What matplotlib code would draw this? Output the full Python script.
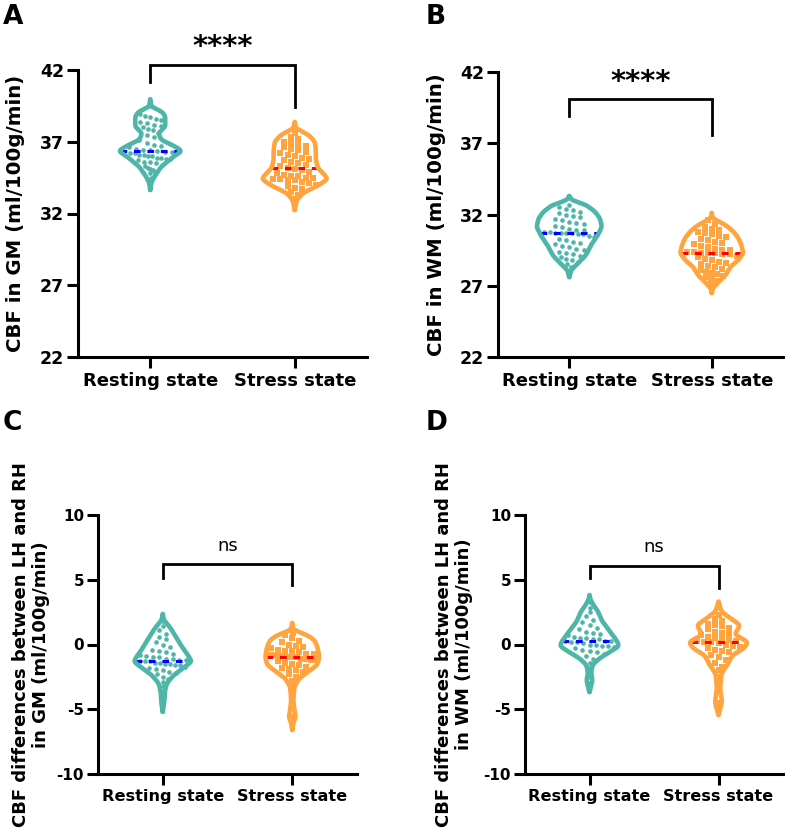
import matplotlib
matplotlib.use("Agg")
import matplotlib.pyplot as plt
import numpy as np

plt.rcParams['font.family'] = 'DejaVu Sans'
plt.rcParams['font.weight'] = 'bold'
plt.rcParams['axes.unicode_minus'] = False

groups = ["Resting state", "Stress state"]
teal = "#4DB6A8"
orange = "#FFA43E"

# ---- data ----
# A: CBF in GM
gm_rest = [39.5, 38.9, 38.8, 38.7, 38.6, 38.5, 38.4, 38.3, 38.2, 38.1, 38.0, 37.9, 37.8, 37.6, 37.5,
           37.3, 37.1, 36.9, 36.8, 36.7, 36.6, 36.5, 36.4, 36.4, 36.35, 36.3, 36.3, 36.2, 36.2, 36.1,
           36.1, 36.0, 36.0, 35.9, 35.9, 35.8, 35.8, 35.7, 35.6, 35.6, 35.5, 35.4, 35.3, 35.2, 35.1,
           35.0, 34.9, 34.8, 34.5]
gm_stress = [37.6, 37.3, 37.2, 37.0, 36.9, 36.8, 36.7, 36.6, 36.5, 36.4, 36.3, 36.2, 36.1, 36.0, 35.9,
             35.8, 35.7, 35.6, 35.5, 35.4, 35.3, 35.2, 35.1, 35.0, 34.9, 34.8, 34.7, 34.6, 34.6, 34.5,
             34.5, 34.4, 34.4, 34.3, 34.3, 34.2, 34.1, 34.0, 33.9, 33.8, 33.7, 33.5, 33.3, 33.0]
# B: CBF in WM
wm_rest = [32.7, 32.5, 32.4, 32.3, 32.2, 32.1, 32.0, 31.9, 31.8, 31.7, 31.6, 31.5, 31.4, 31.3, 31.2,
           31.1, 31.0, 30.9, 30.9, 30.8, 30.8, 30.7, 30.7, 30.7, 30.7, 30.6, 30.6, 30.5, 30.4, 30.3,
           30.2, 30.1, 30.0, 29.9, 29.8, 29.7, 29.6, 29.5, 29.4, 29.3, 29.2, 29.1, 29.0, 28.9, 28.8,
           28.7, 28.5, 28.3]
wm_stress = [31.6, 31.3, 31.1, 31.0, 30.9, 30.8, 30.7, 30.6, 30.5, 30.4, 30.3, 30.2, 30.1, 30.0, 29.9,
             29.8, 29.7, 29.6, 29.5, 29.5, 29.4, 29.4, 29.3, 29.3, 29.3, 29.2, 29.2, 29.1, 29.0, 28.9,
             28.8, 28.7, 28.6, 28.5, 28.4, 28.3, 28.2, 28.1, 28.0, 27.9, 27.8, 27.7, 27.6, 27.5, 27.3,
             27.2, 27.0]
# C: LH-RH difference in GM
gmd_rest = [1.8, 1.4, 1.1, 0.8, 0.6, 0.4, 0.2, 0.0, -0.2, -0.4, -0.5, -0.6, -0.7, -0.8, -0.9, -1.0,
            -1.0, -1.1, -1.1, -1.2, -1.2, -1.3, -1.3, -1.3, -1.4, -1.4, -1.5, -1.5, -1.6, -1.6, -1.7,
            -1.8, -1.9, -2.0, -2.1, -2.2, -2.3, -2.5, -2.7, -2.9, -3.2, -3.6, -4.0, -4.6]
gmd_stress = [1.2, 0.9, 0.7, 0.5, 0.3, 0.2, 0.0, -0.1, -0.2, -0.3, -0.4, -0.5, -0.5, -0.6, -0.7, -0.7,
              -0.8, -0.8, -0.9, -0.9, -1.0, -1.0, -1.0, -1.1, -1.1, -1.2, -1.2, -1.3, -1.4, -1.5, -1.6,
              -1.7, -1.8, -1.9, -2.0, -2.1, -2.3, -2.5, -2.8, -3.3, -4.2, -5.6]
# D: LH-RH difference in WM
wmd_rest = [3.3, 2.8, 2.5, 2.2, 1.9, 1.7, 1.5, 1.3, 1.2, 1.0, 0.9, 0.8, 0.7, 0.6, 0.5, 0.5, 0.4, 0.4,
            0.3, 0.3, 0.25, 0.2, 0.2, 0.1, 0.0, 0.0, -0.1, -0.1, -0.2, -0.3, -0.4, -0.5, -0.6, -0.7,
            -0.9, -1.1, -1.4, -1.8, -2.5, -3.0]
wmd_stress = [2.9, 2.3, 2.0, 1.8, 1.6, 1.5, 1.4, 1.3, 1.2, 1.0, 0.9, 0.8, 0.7, 0.6, 0.5, 0.4, 0.35, 0.3,
              0.25, 0.2, 0.2, 0.1, 0.0, -0.1, -0.2, -0.3, -0.4, -0.5, -0.6, -0.8, -1.0, -1.2, -1.4,
              -1.7, -2.0, -2.5, -3.3, -4.5]

# violin density profiles (value, half width)
gm_rest_y = [39.96, 39.44, 39.09, 38.75, 38.05, 37.59, 37.12, 36.77, 36.36, 35.96, 35.26, 34.56, 34.13, 33.64]
gm_rest_w = [0, .007, .083, .104, .104, .056, .076, .153, .222, .16, .076, .028, .007, 0]
gm_stress_y = [38.38, 37.94, 37.47, 37.0, 36.43, 35.73, 35.17, 34.75, 34.4, 33.98, 33.43, 32.94, 32.24]
gm_stress_w = [0, .007, .097, .139, .146, .146, .160, .201, .229, .167, .056, .014, 0]
wm_rest_y = [33.30, 33.02, 32.67, 32.20, 31.73, 31.14, 30.56, 29.86, 29.16, 28.58, 28.11, 27.61]
wm_rest_w = [0, .014, .118, .181, .215, .229, .201, .153, .118, .063, .014, 0]
wm_stress_y = [32.11, 31.73, 31.26, 30.79, 30.33, 29.86, 29.30, 28.81, 28.34, 27.75, 27.28, 26.82, 26.49]
wm_stress_w = [0, .007, .097, .153, .188, .208, .222, .188, .132, .097, .049, .007, 0]
gmd_rest_y = [2.36, 1.89, 1.25, 0.48, -0.29, -0.81, -1.33, -1.84, -2.36, -3.0, -3.64, -4.42, -5.2]
gmd_rest_w = [0, .008, .062, .109, .155, .194, .225, .155, .085, .031, .016, .012, 0]
gmd_stress_y = [1.66, 1.12, 0.73, 0.35, -0.17, -0.94, -1.58, -2.10, -2.61, -3.26, -4.29, -5.06, -5.60, -6.06, -6.6]
gmd_stress_w = [0, .008, .116, .171, .194, .209, .194, .124, .054, .016, .008, .016, .027, .008, 0]
wmd_rest_y = [3.82, 3.44, 2.92, 2.51, 2.28, 1.76, 1.37, 0.86, 0.35, -0.12, -0.56, -1.07, -1.58, -2.22, -2.74, -3.13, -3.67]
wmd_rest_w = [0, .008, .038, .069, .077, .1, .131, .169, .208, .231, .162, .077, .023, .012, .023, .015, 0]
wmd_stress_y = [3.31, 2.53, 2.02, 1.51, 0.73, 0.22, -0.29, -0.81, -1.58, -2.22, -3.38, -4.42, -4.93, -5.44]
wmd_stress_w = [0, .023, .092, .169, .123, .231, .2, .108, .069, .023, .012, .027, .015, 0]

sig_labels = ["****", "****", "ns", "ns"]


def smooth_profile(y, w, n=400, sigma=0.016):
    y = np.asarray(y, float)
    w = np.asarray(w, float)
    o = np.argsort(y)
    grid = np.linspace(y[o][0], y[o][-1], n)
    wi = np.interp(grid, y[o], w[o])
    s = sigma * n
    m = int(3 * s)
    k = np.exp(-0.5 * (np.arange(-m, m + 1) / s) ** 2)
    k /= k.sum()
    wi = np.convolve(np.pad(wi, m, mode='constant'), k, mode='valid')
    return grid, wi


def spread(vals, binsize, dx, grid, wi):
    v = np.asarray(vals, float)
    keys = np.round(v / binsize).astype(int)
    x = np.zeros(len(v))
    for key in np.unique(keys):
        idx = np.where(keys == key)[0]
        n = len(idx)
        lim = max(np.interp(v[idx].mean(), grid, wi) - 0.03, 0.0)
        step = dx if n < 2 else min(dx, 2 * lim / (n - 1))
        x[idx] = (np.arange(n) - (n - 1) / 2) * step
    return x


def violin(ax, pos, py, pw, vals, color, medc, marker, binsize, dx):
    grid, wi = smooth_profile(py, pw)
    xo = spread(vals, binsize, dx, grid, wi)
    ax.scatter(pos + xo, vals, s=11 if marker == 'o' else 13, marker=marker, color=color,
               linewidths=0, zorder=2)
    med = np.median(vals)
    hw = np.interp(med, grid, wi)
    ax.plot([pos - hw, pos + hw], [med, med], color=medc, lw=2.2, ls=(0, (2.2, 2.2)), zorder=3)
    xs = np.concatenate([pos + wi, (pos - wi)[::-1]])
    ys = np.concatenate([grid, grid[::-1]])
    ax.plot(xs, ys, color=color, lw=3.3, solid_joinstyle='round', solid_capstyle='round', zorder=4)


fig = plt.figure(figsize=(7.86, 8.31), dpi=100)
W, H = 786, 831

panels = [
    dict(rect=(78, 70, 367, 357), ylim=(22, 42), ticks=[22, 27, 32, 37, 42],
         ylabel="CBF in GM (ml/100g/min)", lx=-0.183, lsize=14.2, xs=13, ys=12.5,
         data=[(gm_rest, gm_rest_y, gm_rest_w), (gm_stress, gm_stress_y, gm_stress_w)],
         br=(41.16, 42.35, 39.42, 43.6), bins=0.45, dx=0.05),
    dict(rect=(498, 72, 783, 357), ylim=(22, 42), ticks=[22, 27, 32, 37, 42],
         ylabel="CBF in WM (ml/100g/min)", lx=-0.182, lsize=14.2, xs=13, ys=12.5,
         data=[(wm_rest, wm_rest_y, wm_rest_w), (wm_stress, wm_stress_y, wm_stress_w)],
         br=(38.9, 40.1, 37.6, 41.3), bins=0.45, dx=0.05),
    dict(rect=(98, 515, 357, 774), ylim=(-10, 10), ticks=[-10, -5, 0, 5, 10],
         ylabel="CBF differences between LH and RH\nin GM (ml/100g/min)", lx=-0.185, lsize=13, xs=11.6, ys=11,
         data=[(gmd_rest, gmd_rest_y, gmd_rest_w), (gmd_stress, gmd_stress_y, gmd_stress_w)],
         br=(5.13, 6.2, 4.6, 7.6), bins=0.5, dx=0.055),
    dict(rect=(525, 515, 783, 774), ylim=(-10, 10), ticks=[-10, -5, 0, 5, 10],
         ylabel="CBF differences between LH and RH\nin WM (ml/100g/min)", lx=-0.20, lsize=13, xs=11.6, ys=11,
         data=[(wmd_rest, wmd_rest_y, wmd_rest_w), (wmd_stress, wmd_stress_y, wmd_stress_w)],
         br=(5.1, 6.1, 4.4, 7.5), bins=0.5, dx=0.055),
]

for i, p in enumerate(panels):
    x0, y0, x1, y1 = p['rect']
    ax = fig.add_axes([x0 / W, 1 - y1 / H, (x1 - x0) / W, (y1 - y0) / H])
    ax.set_xlim(-0.5, 1.5)
    ax.set_ylim(*p['ylim'])
    ax.set_yticks(p['ticks'])
    ax.set_xticks([0, 1])
    ax.set_xticklabels(groups)
    for s in ['top', 'right']:
        ax.spines[s].set_visible(False)
    for s in ['left', 'bottom']:
        ax.spines[s].set_linewidth(2.2)
    ax.tick_params(axis='both', width=2.2, length=8, pad=2)
    ax.tick_params(axis='x', labelsize=p['xs'], pad=3)
    ax.tick_params(axis='y', labelsize=p['ys'])
    ax.set_ylabel(p['ylabel'], fontsize=p['lsize'], fontweight='bold', linespacing=1.15)
    ax.yaxis.set_label_coords(p['lx'], 0.5)

    (rv, ry, rw), (sv, sy, sw) = p['data']
    violin(ax, 0, ry, rw, rv, teal, 'blue', 'o', p['bins'], p['dx'])
    violin(ax, 1, sy, sw, sv, orange, 'red', 's', p['bins'], p['dx'])

    lb, top, rb, ty = p['br']
    ax.plot([0, 0, 1, 1], [lb, top, top, rb], color='black', lw=2.0, clip_on=False,
            solid_joinstyle='miter')
    if sig_labels[i] == "ns":
        ax.text(0.5, ty, "ns", ha='center', va='center', fontsize=13, fontweight='normal')
    else:
        ax.text(0.5, ty, sig_labels[i], ha='center', va='center', fontsize=21, fontweight='bold')

for lab, lx, ly in [("A", 3, 4), ("B", 426, 4), ("C", 3, 410), ("D", 426, 410)]:
    fig.text(lx / W, 1 - ly / H, lab, ha='left', va='top', fontsize=19, fontweight='bold')

fig.savefig("out.png", dpi=100)
